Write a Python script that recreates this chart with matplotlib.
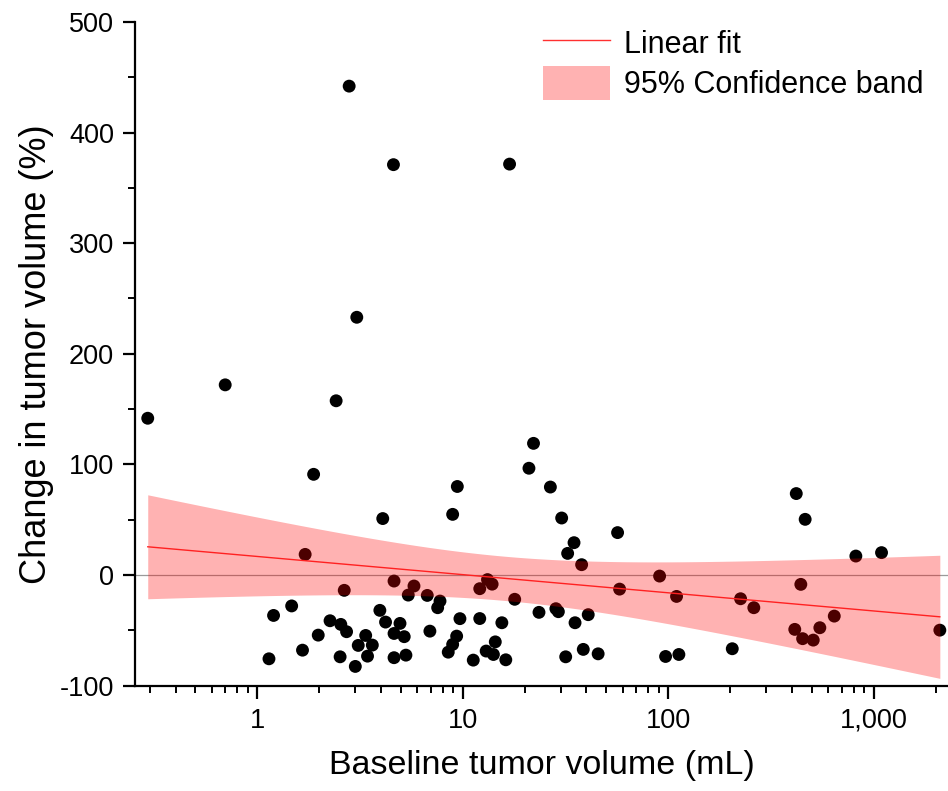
import numpy as np
import matplotlib
matplotlib.use("Agg")
import matplotlib.pyplot as plt
from matplotlib.ticker import FuncFormatter, LogLocator, MultipleLocator, NullFormatter

# ---------------- DATA ----------------
baseline_ml = [
    0.293, 0.698, 1.88, 2.42, 2.80, 3.05, 4.60, 16.9, 4.08, 8.93,
    9.41, 21.0, 22.1, 26.7, 30.3, 34.8, 32.4, 37.9, 56.7, 90.8,
    58.0, 109.8, 1.71, 2.65, 4.63, 5.79, 5.43, 6.72, 7.75, 7.55,
    12.1, 13.2, 13.9, 17.9, 23.5, 28.4, 29.2, 40.8, 35.2, 1.47,
    1.20, 1.14, 1.66, 1.98, 2.26, 2.55, 2.72, 2.53, 3.00, 3.10,
    3.37, 3.63, 3.44, 3.95, 4.21, 4.95, 4.63, 5.19, 4.63, 5.29,
    6.92, 9.69, 9.34, 8.93, 8.50, 11.25, 12.1, 15.5, 14.4, 13.0,
    14.1, 16.2, 31.7, 38.6, 45.6, 97.1, 112.7, 420, 464, 819,
    1092, 442, 225, 261, 205, 413, 451, 508, 547, 643,
    2099,
]
change_pct = [
    141.7, 171.9, 91.0, 157.5, 442.0, 233.0, 371.0, 371.5, 51.0, 54.8,
    80.0, 96.5, 119.0, 79.5, 51.5, 29.2, 19.5, 9.3, 38.3, -1.0,
    -12.8, -19.4, 18.6, -13.9, -5.5, -10.0, -18.2, -18.5, -23.6, -29.6,
    -12.4, -4.2, -8.3, -22.0, -33.8, -30.5, -33.2, -35.9, -43.2, -28.0,
    -36.6, -75.8, -68.0, -54.4, -41.4, -44.7, -51.3, -74.0, -82.7, -63.7,
    -54.7, -63.4, -73.4, -32.0, -42.6, -43.8, -52.9, -55.8, -74.8, -72.5,
    -50.8, -39.5, -55.3, -62.8, -69.8, -77.0, -39.4, -43.2, -60.5, -68.8,
    -71.9, -76.7, -74.0, -67.3, -71.3, -73.7, -71.9, 73.6, 50.3, 17.1,
    20.2, -8.5, -21.5, -29.6, -66.7, -49.2, -57.6, -58.9, -47.7, -37.2,
    -49.9,
]

T_CRIT = 1.987  # t(0.975, df=89)

# ---------------- LINEAR FIT ON LOG10(X) ----------------
x = np.array(baseline_ml)
y = np.array(change_pct)
lx = np.log10(x)
n = len(x)

slope, intercept = np.polyfit(lx, y, 1)
resid = y - (slope * lx + intercept)
s = np.sqrt(np.sum(resid ** 2) / (n - 2))
sxx = np.sum((lx - lx.mean()) ** 2)

lgrid = np.linspace(lx.min(), lx.max(), 300)
xgrid = 10 ** lgrid
yfit = slope * lgrid + intercept
half = T_CRIT * s * np.sqrt(1.0 / n + (lgrid - lx.mean()) ** 2 / sxx)

# ---------------- PLOT ----------------
plt.rcParams['font.family'] = ['Liberation Sans', 'DejaVu Sans']
plt.rcParams['axes.unicode_minus'] = False

fig = plt.figure(figsize=(9.48, 7.91), dpi=100)
ax = fig.add_axes([0.1424, 0.1333, 0.8576, 0.8389])

ax.axhline(0, color='#9a9a9a', lw=0.9, zorder=1)
ax.scatter(x, y, s=86, color='black', edgecolors='none', zorder=2)
ax.plot(xgrid, yfit, color='#ff3030', lw=1.0, zorder=3, label='Linear fit')
ax.fill_between(xgrid, yfit - half, yfit + half, color='red', alpha=0.3,
                lw=0, zorder=4, label='95% Confidence band')

ax.set_xscale('log')
ax.set_xlim(0.254, 2300)
ax.set_ylim(-100, 500)

ax.xaxis.set_major_locator(LogLocator(base=10, numticks=10))
ax.xaxis.set_minor_locator(LogLocator(base=10, subs=np.arange(2, 10), numticks=20))
ax.xaxis.set_major_formatter(FuncFormatter(lambda v, p: f"{v:,.0f}"))
ax.xaxis.set_minor_formatter(NullFormatter())
ax.yaxis.set_major_locator(MultipleLocator(100))
ax.yaxis.set_minor_locator(MultipleLocator(50))

for side in ['top', 'right']:
    ax.spines[side].set_visible(False)
for side in ['left', 'bottom']:
    ax.spines[side].set_linewidth(1.6)

ax.tick_params(which='major', direction='out', length=9, width=1.6, labelsize=19.5)
ax.tick_params(which='minor', direction='out', length=5, width=1.4)
ax.tick_params(axis='x', which='major', pad=7)
ax.tick_params(axis='y', which='major', pad=6)

ax.set_xlabel('Baseline tumor volume (mL)', fontsize=24.5, labelpad=12)
ax.set_ylabel('Change in tumor volume (%)', fontsize=26, labelpad=4)

leg = ax.legend(loc='upper right', bbox_to_anchor=(0.985, 1.012), frameon=False,
                fontsize=22, handlelength=2.2, handleheight=1.3,
                labelspacing=0.2, handletextpad=0.45, borderaxespad=0.0)

fig.savefig('out.png', dpi=100)
